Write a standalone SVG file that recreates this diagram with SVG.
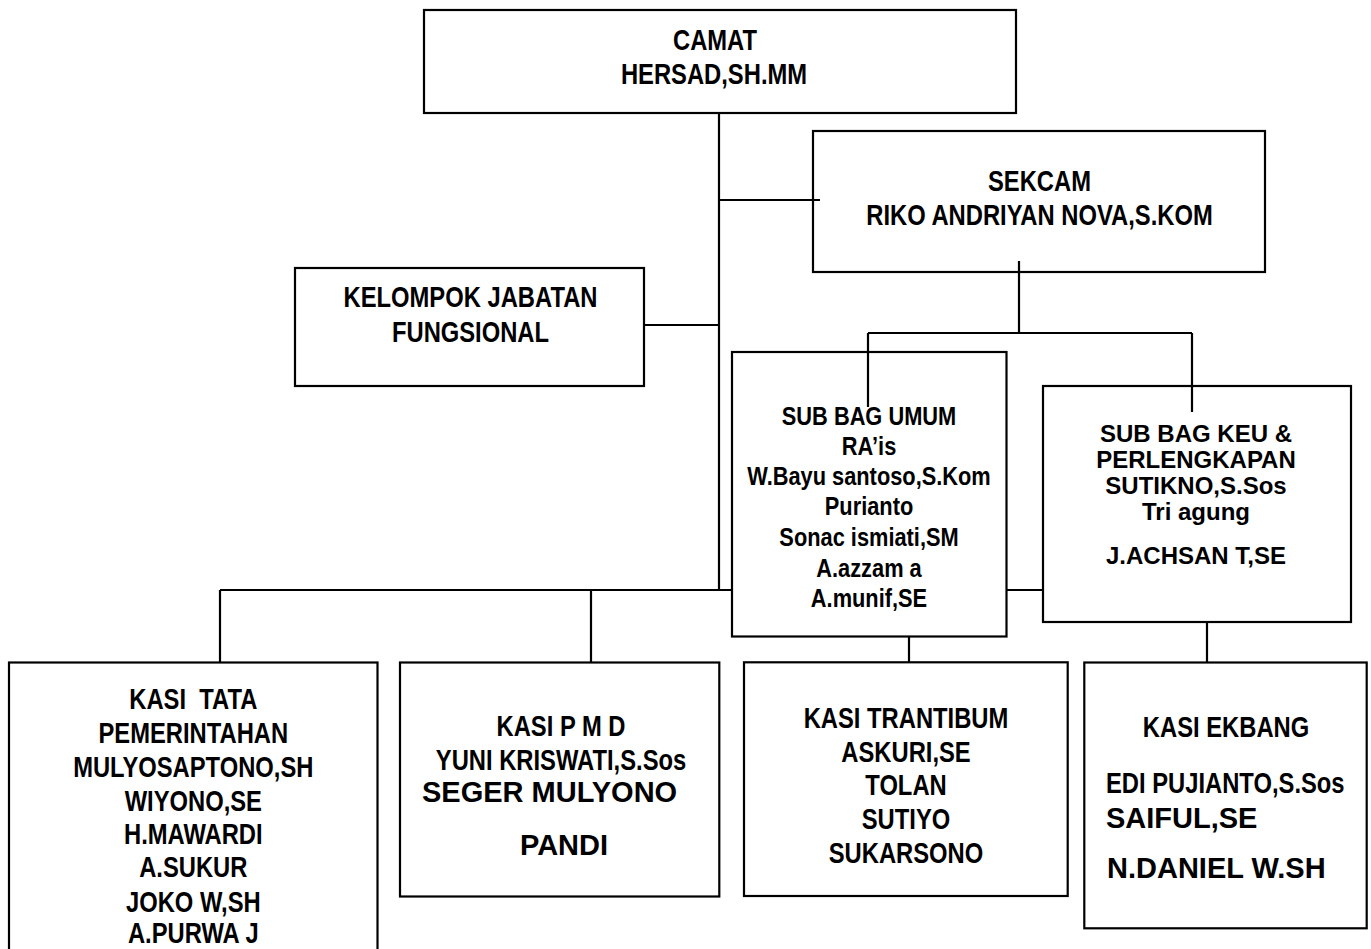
<svg xmlns="http://www.w3.org/2000/svg" width="1371" height="949" viewBox="0 0 1371 949">
<style>
.box{fill:#fff;stroke:#000;stroke-width:2.2}
.ln{fill:none;stroke:#000;stroke-width:2.2}
text{font-family:"Liberation Sans",Arial,sans-serif;font-weight:bold;fill:#000}
.n{font-size:29px}
.s{font-size:26.6px}
.w{font-size:29px}
.k{font-size:24px}
.c{text-anchor:middle}
</style>
<rect width="1371" height="949" fill="#fff"/>
<g id="connectors-under">
<path class="ln" d="M719 113V590M220 590H1043M220 590V663M591 590V663"/>
</g>
<g id="camat">
<rect class="box" x="424" y="10" width="592" height="103"/>
<text class="n c" transform="translate(715,50) scale(0.82,1)">CAMAT</text>
<text class="n c" transform="translate(714,84) scale(0.82,1)">HERSAD,SH.MM</text>
</g>
<g id="sekcam">
<rect class="box" x="813" y="131" width="452" height="141"/>
<text class="n c" transform="translate(1039.5,190.5) scale(0.82,1)">SEKCAM</text>
<text class="n c" transform="translate(1039.5,225) scale(0.82,1)">RIKO ANDRIYAN NOVA,S.KOM</text>
</g>
<g id="kelompok">
<rect class="box" x="295" y="268" width="349" height="118"/>
<text class="n c" transform="translate(470.5,306.5) scale(0.82,1)">KELOMPOK JABATAN</text>
<text class="n c" transform="translate(470.5,341.5) scale(0.82,1)">FUNGSIONAL</text>
</g>
<g id="subbag-umum">
<rect class="box" x="732" y="352" width="274.5" height="284.5"/>
<text class="s c" transform="translate(869,425) scale(0.82,1)">SUB BAG UMUM</text>
<text class="s c" transform="translate(869,455) scale(0.82,1)">RA’is</text>
<text class="s c" transform="translate(869,485) scale(0.82,1)">W.Bayu santoso,S.Kom</text>
<text class="s c" transform="translate(869,515) scale(0.82,1)">Purianto</text>
<text class="s c" transform="translate(869,546) scale(0.82,1)">Sonac ismiati,SM</text>
<text class="s c" transform="translate(869,577) scale(0.82,1)">A.azzam a</text>
<text class="s c" transform="translate(869,607) scale(0.82,1)">A.munif,SE</text>
</g>
<g id="subbag-keu">
<rect class="box" x="1043" y="386" width="308" height="236"/>
<text class="k c" x="1196" y="441.5">SUB BAG KEU &amp;</text>
<text class="k c" x="1196" y="468">PERLENGKAPAN</text>
<text class="k c" x="1196" y="494">SUTIKNO,S.Sos</text>
<text class="k c" x="1196" y="519.5">Tri agung</text>
<text class="k c" x="1196" y="564">J.ACHSAN T,SE</text>
</g>
<g id="kasi-tata">
<rect class="box" x="9" y="662.5" width="368.5" height="300"/>
<text class="n c" xml:space="preserve" transform="translate(193.3,709.3) scale(0.82,1)">KASI  TATA</text>
<text class="n c" transform="translate(193.3,743.3) scale(0.82,1)">PEMERINTAHAN</text>
<text class="n c" transform="translate(193.3,776.7) scale(0.82,1)">MULYOSAPTONO,SH</text>
<text class="n c" transform="translate(193.3,810.7) scale(0.82,1)">WIYONO,SE</text>
<text class="n c" transform="translate(193.3,844) scale(0.82,1)">H.MAWARDI</text>
<text class="n c" transform="translate(193.3,877.3) scale(0.82,1)">A.SUKUR</text>
<text class="n c" transform="translate(193.3,911.7) scale(0.82,1)">JOKO W,SH</text>
<text class="n c" transform="translate(193.3,943.3) scale(0.82,1)">A.PURWA J</text>
</g>
<g id="kasi-pmd">
<rect class="box" x="400" y="662.5" width="319.3" height="234"/>
<text class="n c" transform="translate(561,736) scale(0.82,1)">KASI P M D</text>
<text class="n c" transform="translate(561,770) scale(0.82,1)">YUNI KRISWATI,S.Sos</text>
<text class="w" x="422" y="802.3">SEGER MULYONO</text>
<text class="w c" x="564" y="855">PANDI</text>
</g>
<g id="kasi-trantibum">
<rect class="box" x="744" y="662.3" width="323.7" height="233.7"/>
<text class="n c" transform="translate(906,727.7) scale(0.82,1)">KASI TRANTIBUM</text>
<text class="n c" transform="translate(906,761.7) scale(0.82,1)">ASKURI,SE</text>
<text class="n c" transform="translate(906,795) scale(0.82,1)">TOLAN</text>
<text class="n c" transform="translate(906,829.3) scale(0.82,1)">SUTIYO</text>
<text class="n c" transform="translate(906,862.7) scale(0.82,1)">SUKARSONO</text>
</g>
<g id="kasi-ekbang">
<rect class="box" x="1084.3" y="662.5" width="282.4" height="265.8"/>
<text class="n c" transform="translate(1226,736.7) scale(0.82,1)">KASI EKBANG</text>
<text class="n" transform="translate(1106,793.3) scale(0.82,1)">EDI PUJIANTO,S.Sos</text>
<text class="w" x="1106" y="828.3">SAIFUL,SE</text>
<text class="w" x="1107" y="878.3">N.DANIEL W.SH</text>
</g>
<g id="connectors">
<path class="ln" d="M719 200H820M644 325H719M1019 261V333M868 333H1192M868 333V407M1192 333V412M909 636.5V662.5M1207 622V662.5M719 590H732M1006.5 590H1043"/>
</g>
</svg>
